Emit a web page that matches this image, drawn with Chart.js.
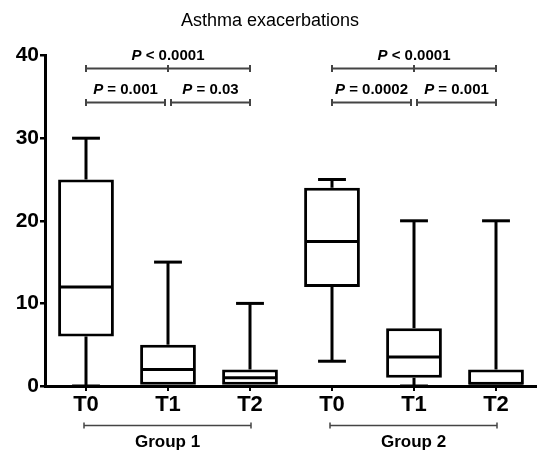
<!DOCTYPE html>
<html>
<head>
<meta charset="utf-8">
<script src="https://cdn.jsdelivr.net/npm/chart.js@4"></script>
<style>
  html, body { margin: 0; padding: 0; background: #fff; }
  #wrap { width: 537px; height: 452px; }
</style>
</head>
<body>
<div id="wrap"><canvas id="chart"></canvas></div>
<script>
// box plot values
const categories = ['T0', 'T1', 'T2', 'T0', 'T1', 'T2'];
const whiskerMin = [0, 0, 0, 3, 0, 0];
const q1 = [6, 0, 0, 12, 1, 0];
const medians = [12, 2, 1, 17.5, 3.5, 0];
const q3 = [25, 5, 2, 24, 7, 2];
const whiskerMax = [30, 15, 10, 25, 20, 20];
const yTicks = [0, 10, 20, 30, 40];

// significance brackets
const pFrom = [0, 0, 1, 3, 3, 4];
const pTo = [2, 1, 2, 5, 4, 5];
const pLevel = [38.5, 34.4, 34.4, 38.5, 34.4, 34.4];
const pText = ['< 0.0001', '= 0.001', '= 0.03', '< 0.0001', '= 0.0002', '= 0.001'];

// groups under the axis
const groupNames = ['Group 1', 'Group 2'];
const groupFrom = [0, 3];
const groupTo = [2, 5];

const FONT = "'Liberation Sans', Arial, sans-serif";
const LW = 3;

function line(ctx, x1, y1, x2, y2) {
    ctx.beginPath();
    ctx.moveTo(x1, y1);
    ctx.lineTo(x2, y2);
    ctx.stroke();
}

// whiskers and medians, drawn on top of the floating bars
const boxParts = {
    id: 'boxParts',
    afterDatasetsDraw(chart) {
        const ctx = chart.ctx;
        const y = chart.scales.y;
        const bars = chart.getDatasetMeta(0).data;
        ctx.save();
        ctx.strokeStyle = '#000';
        ctx.lineWidth = LW;
        bars.forEach((bar, i) => {
            const cx = bar.x;
            const half = bar.width / 2;
            const cap = bar.width / 4;
            const yMax = y.getPixelForValue(whiskerMax[i]);
            const yMin = y.getPixelForValue(whiskerMin[i]);
            if (whiskerMax[i] > q3[i]) {
                line(ctx, cx, y.getPixelForValue(q3[i]), cx, yMax);
                line(ctx, cx - cap, yMax, cx + cap, yMax);
            }
            if (whiskerMin[i] < q1[i]) {
                line(ctx, cx, y.getPixelForValue(q1[i]), cx, yMin);
                line(ctx, cx - cap, yMin, cx + cap, yMin);
            }
            const yMed = y.getPixelForValue(medians[i]);
            line(ctx, cx - half + 1, yMed, cx + half - 1, yMed);
        });
        ctx.restore();
    }
};

// P value brackets and group labels
const annotations = {
    id: 'annotations',
    afterDraw(chart) {
        const ctx = chart.ctx;
        const x = chart.scales.x;
        const y = chart.scales.y;
        ctx.save();
        ctx.strokeStyle = '#444';
        ctx.lineWidth = 2;
        ctx.fillStyle = '#000';
        ctx.textBaseline = 'middle';

        pFrom.forEach((f, i) => {
            const t = pTo[i];
            let x1 = x.getPixelForValue(f);
            let x2 = x.getPixelForValue(t);
            if (t - f === 1) {
                // adjacent pairs leave a small gap at the shared category
                if (f % 3 === 1) x1 += 3; else x2 -= 3;
            }
            const yy = Math.round(y.getPixelForValue(pLevel[i])) + 0.5;
            line(ctx, x1, yy, x2, yy);
            line(ctx, x1, yy - 3.5, x1, yy + 3.5);
            line(ctx, x2, yy - 3.5, x2, yy + 3.5);
            if (t - f === 2) {
                const xm = x.getPixelForValue(f + 1);
                line(ctx, xm, yy - 3.5, xm, yy + 3.5);
            }
            // "P" italic bold, rest bold
            ctx.font = 'italic bold 15px ' + FONT;
            const wP = ctx.measureText('P').width;
            ctx.font = 'bold 15px ' + FONT;
            const rest = ' ' + pText[i];
            const wR = ctx.measureText(rest).width;
            const cx = (x1 + x2) / 2;
            const start = cx - (wP + wR) / 2;
            const ty = yy - 13;
            ctx.textAlign = 'left';
            ctx.font = 'italic bold 15px ' + FONT;
            ctx.fillText('P', start, ty);
            ctx.font = 'bold 15px ' + FONT;
            ctx.fillText(rest, start + wP, ty);
        });

        const axisY = chart.chartArea.bottom;
        groupNames.forEach((name, i) => {
            const x1 = x.getPixelForValue(groupFrom[i]) - 2;
            const x2 = x.getPixelForValue(groupTo[i]) + 1;
            const yy = axisY + 39.5;
            ctx.strokeStyle = '#444';
            ctx.lineWidth = 1.5;
            line(ctx, x1, yy, x2, yy);
            line(ctx, x1, yy - 3, x1, yy + 3);
            line(ctx, x2, yy - 3, x2, yy + 3);
            ctx.font = 'bold 17px ' + FONT;
            ctx.textAlign = 'center';
            ctx.fillText(name, (x1 + x2) / 2, axisY + 56);
        });
        ctx.restore();
    }
};

const ctx = document.getElementById('chart').getContext('2d');
new Chart(ctx, {
    type: 'bar',
    data: {
        labels: categories,
        datasets: [{
            data: q1.map((v, i) => [v, q3[i]]),
            backgroundColor: '#fff',
            borderColor: '#000',
            borderWidth: LW,
            borderSkipped: false,
            barPercentage: 0.68,
            categoryPercentage: 1
        }]
    },
    options: {
        responsive: true,
        maintainAspectRatio: false,
        animation: false,
        events: [],
        layout: { padding: { left: 0, right: -3, top: 0, bottom: 0 } },
        plugins: {
            legend: { display: false },
            tooltip: { enabled: false },
            title: {
                display: true,
                text: 'Asthma exacerbations',
                color: '#000',
                font: { family: FONT, size: 18, weight: 'normal' },
                padding: { top: 10, bottom: 24 }
            }
        },
        scales: {
            x: {
                afterFit: s => { s.height = 66; },
                grid: {
                    offset: false,
                    drawOnChartArea: false,
                    drawTicks: true,
                    tickLength: 5,
                    color: '#000',
                    lineWidth: 2
                },
                border: { display: true, color: '#000', width: 3 },
                ticks: {
                    color: '#000',
                    padding: 1,
                    font: { family: FONT, size: 22, weight: 'bold' }
                }
            },
            y: {
                min: 0,
                max: 40,
                afterFit: s => { s.width = 45; },
                afterBuildTicks: s => { s.ticks = yTicks.map(v => ({ value: v })); },
                grid: {
                    drawOnChartArea: false,
                    drawTicks: true,
                    tickLength: 5,
                    color: '#000',
                    lineWidth: 2.5
                },
                border: { display: true, color: '#000', width: 3 },
                ticks: {
                    color: '#000',
                    padding: 1,
                    font: { family: FONT, size: 21, weight: 'bold' }
                }
            }
        }
    },
    plugins: [boxParts, annotations]
});
</script>
</body>
</html>
